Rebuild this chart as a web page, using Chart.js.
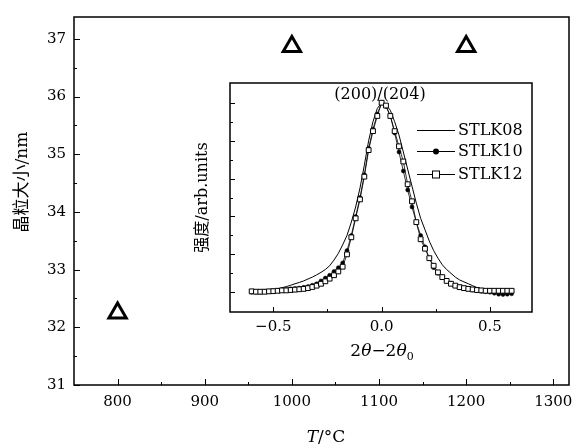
<!DOCTYPE html>
<html><head><meta charset="utf-8">
<script src="https://cdn.jsdelivr.net/npm/chart.js@4.4.0/dist/chart.umd.min.js"></script>
<style>
html,body{margin:0;padding:0;background:#fff;}
#wrap{position:relative;width:582px;height:447px;overflow:hidden;}
#main{position:absolute;left:0;top:0;}
#inset{position:absolute;left:180px;top:75px;}
</style></head><body>
<div id="wrap"><canvas id="main" width="582" height="447"></canvas><canvas id="inset" width="360" height="295"></canvas></div>
<script>
// ---- main chart data ----
const temperatures = [800, 1000, 1200];
const grainSize = [32.25, 36.87, 36.87];
const mainXTicks = [800, 900, 1000, 1100, 1200, 1300];
const mainXMinor = [850, 950, 1050, 1150, 1250];
const mainYTicks = [31, 32, 33, 34, 35, 36, 37];
const mainYMinor = [31.5, 32.5, 33.5, 34.5, 35.5, 36.5];

// ---- inset data ----
const insetX = [-0.60,-0.58,-0.56,-0.54,-0.52,-0.50,-0.48,-0.46,-0.44,-0.42,-0.40,-0.38,-0.36,-0.34,-0.32,-0.30,-0.28,-0.26,-0.24,-0.22,-0.20,-0.18,-0.16,-0.14,-0.12,-0.10,-0.08,-0.06,-0.04,-0.02,0.00,0.02,0.04,0.06,0.08,0.10,0.12,0.14,0.16,0.18,0.20,0.22,0.24,0.26,0.28,0.30,0.32,0.34,0.36,0.38,0.40,0.42,0.44,0.46,0.48,0.50,0.52,0.54,0.56,0.58,0.60];
const stlk08 = [0.000,0.001,0.003,0.005,0.008,0.012,0.018,0.024,0.030,0.037,0.045,0.052,0.060,0.070,0.080,0.092,0.105,0.120,0.140,0.170,0.205,0.250,0.300,0.370,0.450,0.550,0.670,0.800,0.900,0.970,1.000,0.990,0.960,0.900,0.830,0.740,0.650,0.560,0.470,0.390,0.330,0.270,0.220,0.180,0.145,0.120,0.100,0.080,0.065,0.055,0.045,0.035,0.025,0.018,0.010,0.005,0.002,0.000,0.000,0.000,0.000];
const stlk10 = [0.000,0.000,0.000,0.005,0.005,0.008,0.010,0.012,0.015,0.018,0.020,0.022,0.026,0.030,0.037,0.045,0.060,0.075,0.090,0.110,0.130,0.155,0.220,0.300,0.400,0.500,0.620,0.760,0.860,0.940,1.000,0.980,0.930,0.840,0.740,0.640,0.540,0.450,0.370,0.300,0.240,0.180,0.130,0.100,0.080,0.062,0.048,0.035,0.028,0.022,0.018,0.012,0.008,0.005,0.003,0.000,-0.005,-0.010,-0.012,-0.010,-0.008];
const stlk12 = [0.005,0.003,0.003,0.003,0.005,0.006,0.008,0.010,0.010,0.012,0.014,0.016,0.018,0.022,0.028,0.035,0.045,0.058,0.072,0.090,0.110,0.135,0.200,0.290,0.390,0.490,0.610,0.750,0.850,0.930,1.000,0.985,0.930,0.850,0.770,0.690,0.570,0.480,0.370,0.280,0.230,0.180,0.140,0.105,0.080,0.060,0.045,0.035,0.027,0.022,0.018,0.015,0.012,0.010,0.008,0.008,0.008,0.008,0.008,0.008,0.008];
const insetXTicks = [-0.5, 0, 0.5];
const insetXMinor = [-0.25, 0.25];
const insetYTicks = [0, 0.2, 0.4, 0.6, 0.8, 1.0];
const insetYMinor = [0.1, 0.3, 0.5, 0.7, 0.9];
const seriesNames = ['STLK08', 'STLK10', 'STLK12'];

const SERIF = '"DejaVu Serif", "Noto Sans CJK SC", serif';
const TICKFONT = {family: SERIF, size: 15};

function framePlugin(cfg) {
  return {
    id: 'frame',
    afterDraw(chart) {
      const ctx = chart.ctx, a = chart.chartArea, xs = chart.scales.x, ys = chart.scales.y;
      ctx.save();
      ctx.strokeStyle = '#000';
      ctx.lineWidth = cfg.frameWidth;
      ctx.strokeRect(a.left, a.top, a.right - a.left, a.bottom - a.top);
      ctx.lineWidth = 1;
      const tx = (vals, len) => vals.forEach(v => {
        const p = Math.round(xs.getPixelForValue(v)) + 0.5;
        ctx.beginPath(); ctx.moveTo(p, a.bottom); ctx.lineTo(p, a.bottom - len); ctx.stroke();
      });
      const ty = (vals, len) => vals.forEach(v => {
        const p = Math.round(ys.getPixelForValue(v)) + 0.5;
        ctx.beginPath(); ctx.moveTo(a.left, p); ctx.lineTo(a.left + len, p); ctx.stroke();
      });
      tx(cfg.xMajor, cfg.majorLen); tx(cfg.xMinor, cfg.minorLen);
      ty(cfg.yMajor, cfg.majorLen); ty(cfg.yMinor, cfg.minorLen);
      if (cfg.extra) cfg.extra(chart, ctx);
      ctx.restore();
    }
  };
}

function drawParts(ctx, parts, cx, cy) {
  // parts: [{t, font, dy}]
  let total = 0;
  parts.forEach(p => { ctx.font = p.font; p.w = ctx.measureText(p.t).width; total += p.w; });
  let x = cx - total / 2;
  ctx.textBaseline = 'middle';
  ctx.textAlign = 'left';
  parts.forEach(p => { ctx.font = p.font; ctx.fillText(p.t, x, cy + (p.dy || 0)); x += p.w; });
}

// ---- main chart ----
new Chart(document.getElementById('main'), {
  type: 'scatter',
  data: {
    datasets: [{
      label: '晶粒大小',
      data: temperatures.map((t, i) => ({x: t, y: grainSize[i]})),
      showLine: false,
      pointStyle: 'triangle',
      pointRadius: 10,
      pointBorderWidth: 3,
      pointBorderColor: '#000',
      pointBackgroundColor: 'rgba(0,0,0,0)'
    }]
  },
  options: {
    responsive: false, animation: false, events: [],
    layout: {padding: {top: 11, right: 5, left: 0, bottom: 0}},
    plugins: {legend: {display: false}, tooltip: {enabled: false}},
    scales: {
      x: {
        type: 'linear', min: 750, max: 1318,
        afterBuildTicks: s => { s.ticks = mainXTicks.map(v => ({value: v})); },
        afterFit: s => { s.height = 62; },
        grid: {display: false, drawTicks: false}, border: {display: false},
        ticks: {padding: 8, color: '#000', font: TICKFONT, callback: v => String(v)}
      },
      y: {
        type: 'linear', min: 31, max: 37.38,
        afterBuildTicks: s => { s.ticks = mainYTicks.map(v => ({value: v})); },
        afterFit: s => { s.width = 74; },
        grid: {display: false, drawTicks: false}, border: {display: false},
        ticks: {padding: 8, color: '#000', font: TICKFONT, callback: v => String(v)}
      }
    }
  },
  plugins: [framePlugin({
    frameWidth: 1.5, majorLen: 6, minorLen: 3,
    xMajor: mainXTicks, xMinor: mainXMinor, yMajor: mainYTicks, yMinor: mainYMinor,
    extra: (chart, ctx) => {
      ctx.fillStyle = '#000';
      // y title
      ctx.save();
      ctx.translate(23, 182);
      ctx.rotate(-Math.PI / 2);
      drawParts(ctx, [{t: '晶粒大小/nm', font: '17px ' + SERIF}], 0, 0);
      ctx.restore();
      // x title
      drawParts(ctx, [
        {t: 'T', font: 'italic 17px ' + SERIF},
        {t: '/°C', font: '17px ' + SERIF}
      ], 326, 438);
    }
  })]
});

// ---- inset chart ----
const mk = arr => insetX.map((x, i) => ({x: x, y: arr[i]}));
new Chart(document.getElementById('inset'), {
  type: 'line',
  data: {
    datasets: [
      {label: seriesNames[0], data: mk(stlk08), borderColor: '#000', borderWidth: 1, pointRadius: 0, tension: 0, order: 3},
      {label: seriesNames[1], data: mk(stlk10), borderColor: '#000', borderWidth: 0.8, pointStyle: 'circle', pointRadius: 2, pointBorderWidth: 0.5, pointBorderColor: '#000', pointBackgroundColor: '#000', tension: 0, order: 2},
      {label: seriesNames[2], data: mk(stlk12), borderColor: '#000', borderWidth: 0.8, pointStyle: 'rect', pointRadius: 3.4, pointBorderWidth: 1, pointBorderColor: '#000', pointBackgroundColor: '#fff', tension: 0, order: 1}
    ]
  },
  options: {
    responsive: false, animation: false, events: [],
    layout: {padding: {top: 8, right: 8, left: 0, bottom: 0}},
    plugins: {legend: {display: false}, tooltip: {enabled: false}},
    scales: {
      x: {
        type: 'linear', min: -0.70, max: 0.694,
        afterBuildTicks: s => { s.ticks = insetXTicks.map(v => ({value: v})); },
        afterFit: s => { s.height = 58; },
        grid: {display: false, drawTicks: false}, border: {display: false},
        ticks: {padding: 6, color: '#000', font: TICKFONT, callback: v => (v < 0 ? '\u2212' : '') + Math.abs(v).toFixed(1)}
      },
      y: {
        type: 'linear', min: -0.104, max: 1.104,
        afterBuildTicks: s => { s.ticks = insetYTicks.map(v => ({value: v})); },
        afterFit: s => { s.width = 50; },
        grid: {display: false, drawTicks: false}, border: {display: false},
        ticks: {display: false}
      }
    }
  },
  plugins: [framePlugin({
    frameWidth: 1.5, majorLen: 5, minorLen: 3,
    xMajor: insetXTicks, xMinor: insetXMinor, yMajor: insetYTicks, yMinor: insetYMinor,
    extra: (chart, ctx) => {
      ctx.fillStyle = '#000';
      const a = chart.chartArea;
      // y title
      ctx.save();
      ctx.translate(23, (a.top + a.bottom) / 2);
      ctx.rotate(-Math.PI / 2);
      drawParts(ctx, [{t: '强度/arb.units', font: '16px ' + SERIF}], 0, 0);
      ctx.restore();
      // x title
      drawParts(ctx, [
        {t: '2', font: '17px ' + SERIF},
        {t: 'θ', font: 'italic 17px ' + SERIF},
        {t: '\u22122', font: '17px ' + SERIF},
        {t: 'θ', font: 'italic 17px ' + SERIF},
        {t: '0', font: '11px ' + SERIF, dy: 5}
      ], 202, 277);
      // peak annotation
      drawParts(ctx, [{t: '(200)/(204)', font: '16px ' + SERIF}], 200, 20);
      // legend
      const rows = [55, 76, 99];
      const x0 = 237, x1 = 275, xm = (x0 + x1) / 2;
      rows.forEach((y, i) => {
        ctx.strokeStyle = '#000'; ctx.lineWidth = 1;
        ctx.beginPath(); ctx.moveTo(x0, y + 0.5); ctx.lineTo(x1, y + 0.5); ctx.stroke();
        if (i === 1) {
          ctx.beginPath(); ctx.arc(xm, y + 0.5, 3, 0, Math.PI * 2); ctx.fillStyle = '#000'; ctx.fill();
        } else if (i === 2) {
          ctx.fillStyle = '#fff'; ctx.fillRect(xm - 3.5, y - 3, 7, 7);
          ctx.strokeRect(xm - 3.5, y - 3, 7, 7);
        }
        ctx.fillStyle = '#000';
        ctx.font = '16px ' + SERIF; ctx.textAlign = 'left'; ctx.textBaseline = 'middle';
        ctx.fillText(seriesNames[i], 278, y + 1);
      });
    }
  })]
});
</script>
</body></html>
